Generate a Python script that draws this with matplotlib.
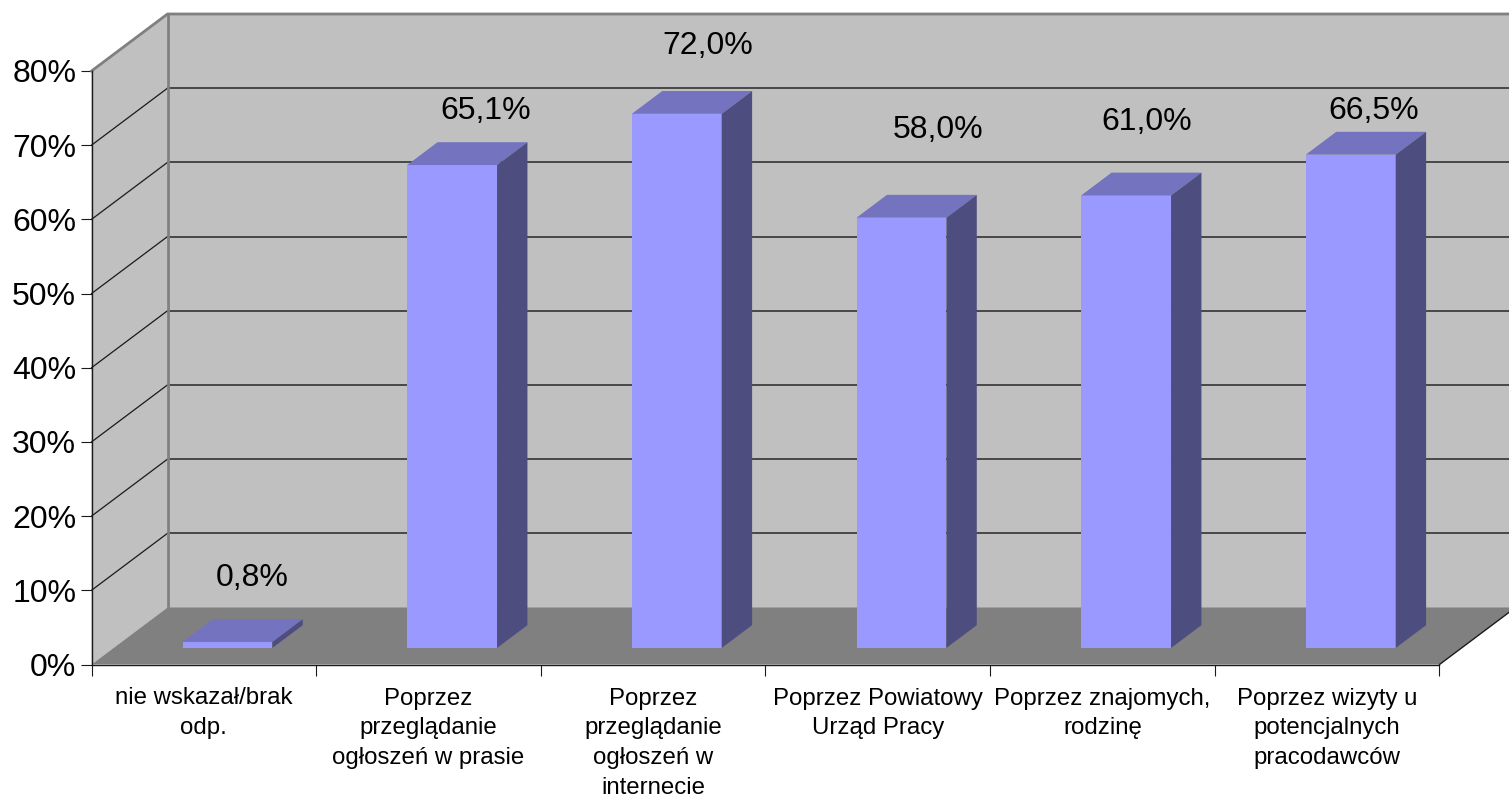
import matplotlib
matplotlib.use('Agg')
import matplotlib.pyplot as plt
from matplotlib.patches import Polygon

plt.rcParams['font.family'] = ['Liberation Sans', 'DejaVu Sans']

categories = ['nie wskazał/brak\nodp.',
              'Poprzez\nprzeglądanie\nogłoszeń w prasie',
              'Poprzez\nprzeglądanie\nogłoszeń w\ninternecie',
              'Poprzez Powiatowy\nUrząd Pracy',
              'Poprzez znajomych,\nrodzinę',
              'Poprzez wizyty u\npotencjalnych\npracodawców']
values = [0.8, 65.1, 72.0, 58.0, 61.0, 66.5]
value_labels = ['0,8%', '65,1%', '72,0%', '58,0%', '61,0%', '66,5%']
y_ticks = [0, 10, 20, 30, 40, 50, 60, 70, 80]

# label placement as the original has it, pixels from top of bar front
label_dx = [25, 34, 31, 37, 21, 23]
label_dy = [64, 54, 68, 88, 73, 44]

W, H = 1509, 798
fig = plt.figure(figsize=(W / 100, H / 100), dpi=100)
ax = fig.add_axes([91.5 / W, (H - 664.5) / H, 1348 / W, 593.5 / H])
ax.set_xlim(0, 6)
ax.set_ylim(0, 80)
ax.patch.set_visible(False)

# fake 3d: depth 0..1 shifts a point back and up
depth_x = 76 / (1348 / 6)
depth_y = 57 / (593.5 / 80)


def pr(x, y, z):
    return (x + z * depth_x, y + z * depth_y)


def face(points, color, zorder=1):
    ax.add_patch(Polygon(points, closed=True, facecolor=color, edgecolor='none',
                         clip_on=False, zorder=zorder))


wall = '#c0c0c0'
floor = '#808080'
edge = '#808080'
front_c = '#9999ff'
top_c = '#7373bf'
side_c = '#4d4d80'

face([pr(0, 0, 0), pr(0, 80, 0), pr(0, 80, 1), pr(0, 0, 1)], wall)
face([pr(0, 0, 1), pr(0, 80, 1), pr(6, 80, 1), pr(6, 0, 1)], wall)
face([pr(0, 0, 0), pr(6, 0, 0), pr(6, 0, 1), pr(0, 0, 1)], floor)

for t in y_ticks[1:-1]:
    xs, ys = zip(pr(0, t, 0), pr(0, t, 1))
    ax.plot(xs, ys, color='#1a1a1a', lw=0.9, clip_on=False, zorder=1.5)
    xs, ys = zip(pr(0, t, 1), pr(6, t, 1))
    ax.plot(xs, ys, color='#333333', lw=1.2, clip_on=False, zorder=1.5)

xs, ys = zip(pr(0, 80, 0), pr(0, 80, 1), pr(6, 80, 1))
ax.plot(xs, ys, color=edge, lw=2.0, clip_on=False, zorder=1.6)
xs, ys = zip(pr(0, 80, 1), pr(0, 0, 1))
ax.plot(xs, ys, color=edge, lw=2.0, clip_on=False, zorder=1.6)
xs, ys = zip(pr(6, 0, 0), pr(6, 0, 1))
ax.plot(xs, ys, color='#1a1a1a', lw=1.0, clip_on=False, zorder=1.6)

z0, z1 = 0.29, 0.69
half = 0.2
shift = 0.507
for i, v in enumerate(values):
    l, r = i + shift - half, i + shift + half
    face([pr(l, 0, z0), pr(r, 0, z0), pr(r, v, z0), pr(l, v, z0)], front_c, 2)
    face([pr(l, v, z0), pr(r, v, z0), pr(r, v, z1), pr(l, v, z1)], top_c, 2)
    face([pr(r, 0, z0), pr(r, 0, z1), pr(r, v, z1), pr(r, v, z0)], side_c, 2)
    ax.annotate(value_labels[i], pr(i + shift, v, z0), xytext=(label_dx[i], label_dy[i]),
                textcoords='offset pixels', ha='center', va='center',
                fontsize=23, color='black', zorder=3, annotation_clip=False)

ax.spines['top'].set_visible(False)
ax.spines['right'].set_visible(False)
for s in ['left', 'bottom']:
    ax.spines[s].set_color('#1a1a1a')
    ax.spines[s].set_linewidth(1.0)

ax.set_yticks(y_ticks)
ax.set_yticklabels([f'{t}%' for t in y_ticks])
ax.tick_params(axis='y', length=8, width=0.8, color='#1a1a1a', labelsize=23, pad=3)

ax.set_xticks(range(7))
ax.set_xticklabels([])
ax.tick_params(axis='x', length=8, width=0.8, color='#1a1a1a')
for i, c in enumerate(categories):
    ax.annotate(c, (i + 0.5, 0), xytext=(0, -23), textcoords='offset pixels',
                ha='center', va='top', fontsize=17.3, linespacing=1.46,
                annotation_clip=False)

fig.savefig('out.png', dpi=100)
